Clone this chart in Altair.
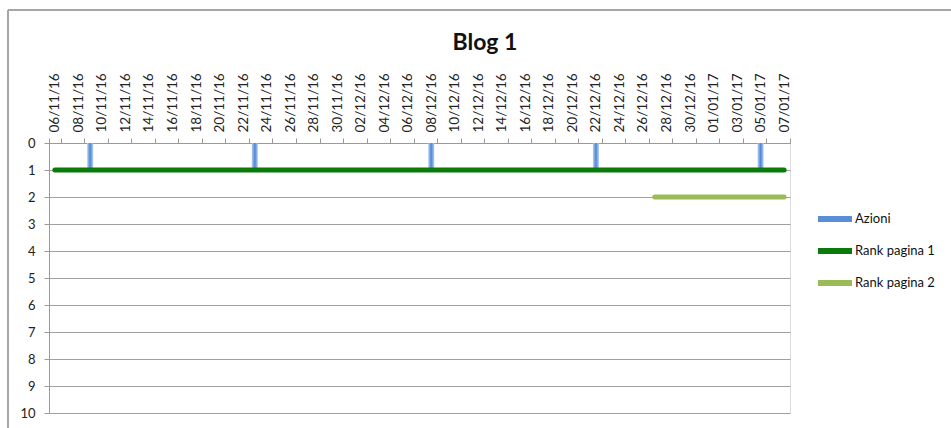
import altair as alt
import pandas as pd

# Category axis: every day from 06/11/16 to 07/01/17
days = pd.date_range("2016-11-06", "2017-01-07", freq="D").strftime("%d/%m/%y").tolist()
label_days = days[::2]

# Azioni (bars)
azioni_days = ["09/11/16", "23/11/16", "08/12/16", "22/12/16", "05/01/17"]
azioni_values = [1, 1, 1, 1, 1]

# Rank pagina 1 (every day)
rank1_values = [1, 1, 1, 1, 1, 1, 1, 1, 1, 1, 1, 1, 1, 1, 1, 1, 1, 1, 1, 1, 1,
                1, 1, 1, 1, 1, 1, 1, 1, 1, 1, 1, 1, 1, 1, 1, 1, 1, 1, 1, 1, 1,
                1, 1, 1, 1, 1, 1, 1, 1, 1, 1, 1, 1, 1, 1, 1, 1, 1, 1, 1, 1, 1]

# Rank pagina 2
rank2_days = ["27/12/16", "28/12/16", "29/12/16", "30/12/16", "31/12/16", "01/01/17",
              "02/01/17", "03/01/17", "04/01/17", "05/01/17", "06/01/17", "07/01/17"]
rank2_values = [2, 2, 2, 2, 2, 2, 2, 2, 2, 2, 2, 2]

series_names = ["Azioni", "Rank pagina 1", "Rank pagina 2"]
series_colors = ["#5b8ed8", "#0a7a0a", "#9bbb59"]
chart_title = "Blog 1"

bars_df = pd.DataFrame({"day": azioni_days, "value": azioni_values, "series": "Azioni"})
lines_df = pd.concat([
    pd.DataFrame({"day": days, "value": rank1_values, "series": "Rank pagina 1"}),
    pd.DataFrame({"day": rank2_days, "value": rank2_values, "series": "Rank pagina 2"}),
])

FONT = "Lato"

x_enc = alt.X(
    "day:O",
    scale=alt.Scale(domain=days, paddingInner=0, paddingOuter=0),
    axis=alt.Axis(
        orient="top", values=label_days, labelAngle=-90, title=None,
        tickBand="extent", grid=False, tickSize=5, labelPadding=6,
        labelFont=FONT, labelFontSize=13.5, labelColor="#222",
        domainColor="#9a9a9a", tickColor="#9a9a9a", labelAlign="left",
        labelBaseline="middle",
    ),
)
y_scale = alt.Scale(domain=[0, 10], reverse=True, nice=False)
y_axis = alt.Axis(
    values=list(range(11)), title=None, grid=True, gridColor="#a0a0a0",
    tickSize=5, labelPadding=9, labelFont=FONT, labelFontSize=13, labelColor="#222",
    domainColor="#9a9a9a", tickColor="#9a9a9a",
)

gradient = alt.LinearGradient(
    gradient="linear", x1=0, x2=1, y1=0, y2=0,
    stops=[alt.GradientStop(color="#b4cff2", offset=0),
           alt.GradientStop(color="#4f86d6", offset=0.5),
           alt.GradientStop(color="#b4cff2", offset=1)],
)

bars = alt.Chart(bars_df).mark_bar(size=6, fill=gradient).encode(
    x=x_enc,
    y=alt.Y("value:Q", scale=y_scale, axis=y_axis),
)

lines = alt.Chart(lines_df).mark_line(strokeWidth=5, strokeCap="round").encode(
    x=x_enc,
    y=alt.Y("value:Q", scale=y_scale, axis=y_axis),
    color=alt.Color(
        "series:N",
        scale=alt.Scale(domain=series_names, range=series_colors),
        legend=alt.Legend(
            title=None, orient="none", legendX=766, legendY=56,
            symbolType="stroke", symbolSize=1156, symbolStrokeWidth=6,
            labelFont=FONT, labelFontSize=13, labelColor="#111",
            labelOffset=0, rowPadding=-4, padding=0,
        ),
    ),
)

frame_src = alt.Chart(pd.DataFrame({"t": [chart_title]}))
border_top = frame_src.mark_rule(color="#a6a6a6", strokeWidth=2).encode(
    x=alt.value(-41), x2=alt.value(910), y=alt.value(-133))
border_left = frame_src.mark_rule(color="#a6a6a6", strokeWidth=2).encode(
    x=alt.value(-41), y=alt.value(-133), y2=alt.value(300))
title = frame_src.mark_text(
    font=FONT, fontSize=23, fontWeight="bold", color="#111",
    align="center", baseline="alphabetic",
).encode(text="t:N", x=alt.value(436), y=alt.value(-93))

chart = alt.layer(bars, lines, border_top, border_left, title).properties(
    width=741, height=270,
    padding={"left": 49, "top": 143, "right": 161, "bottom": 15},
    autosize=alt.AutoSizeParams(type="none"),
).configure_view(stroke=None).configure(background="white")

chart.save("out.html", embed_options={"renderer": "svg", "actions": False})
